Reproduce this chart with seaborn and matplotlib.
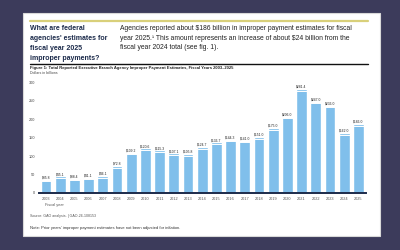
import matplotlib
matplotlib.use("Agg")
import matplotlib.pyplot as plt
import seaborn as sns
import pandas as pd
from matplotlib.patches import Rectangle
from matplotlib.lines import Line2D

years = ["2003", "2004", "2005", "2006", "2007", "2008", "2009", "2010", "2011", "2012",
         "2013", "2014", "2015", "2016", "2017", "2018", "2019", "2020", "2021", "2022",
         "2023", "2024", "2025"]
values = [35.8, 45.1, 38.4, 41.1, 46.1, 72.8, 109.2, 120.6, 115.3, 107.1,
          105.8, 124.7, 136.7, 144.3, 141.0, 151.0, 175.0, 206.0, 281.4, 247.0,
          236.0, 162.0, 186.0]
y_ticks = [0, 50, 100, 150, 200, 250, 300]

title_left = "What are federal\nagencies' estimates for\nfiscal year 2025\nimproper payments?"
body_right = ("Agencies reported about \\$186 billion in improper payment estimates for fiscal\n"
              "year 2025.¹ This amount represents an increase of about \\$24 billion from the\n"
              "fiscal year 2024 total (see fig. 1).")
fig_caption = "Figure 1: Total Reported Executive Branch Agency Improper Payment Estimates, Fiscal Years 2003\u20132025"
units = "Dollars in billions"
x_title = "Fiscal year"
source = "Source: GAO analysis. | GAO-26-108153"
note = "Note: Prior years' improper payment estimates have not been adjusted for inflation."

sns.set_theme(style="white")
plt.rcParams["font.family"] = ["Liberation Sans", "DejaVu Sans"]

BG = "#3c3b5b"
NAVY = "#1c2b4b"
BAR = "#80bfeb"

W, H = 400, 250
fig = plt.figure(figsize=(4, 2.5), dpi=100)
fig.patch.set_facecolor(BG)

def fx(px):
    return px / W

def fy(py):
    return 1 - py / H

# white card
fig.patches.append(Rectangle((fx(23), fy(236)), fx(357), (236 - 13) / H,
                             transform=fig.transFigure, facecolor="white",
                             edgecolor="#d9d9d9", linewidth=0.8, zorder=-5))
# yellow rule
fig.add_artist(Line2D([fx(30), fx(368)], [fy(21), fy(21)], transform=fig.transFigure,
                      color="#d9d07a", linewidth=1.6))
# black rule
fig.add_artist(Line2D([fx(30), fx(368)], [fy(64), fy(64)], transform=fig.transFigure,
                      color="#111111", linewidth=1.0))

fig.text(fx(30), fy(25.5), title_left, ha="left", va="top", fontsize=5.0,
         fontweight="bold", color=NAVY, linespacing=1.55)
fig.text(fx(120), fy(25.5), body_right, ha="left", va="top", fontsize=4.85,
         color="#222222", linespacing=1.42)
fig.text(fx(30), fy(66), fig_caption, ha="left", va="top", fontsize=3.0,
         fontweight="bold", color="#222222")
fig.text(fx(30), fy(70.5), units, ha="left", va="top", fontsize=2.6, color="#444444")
fig.text(fx(30), fy(214), source, ha="left", va="top", fontsize=2.6, color="#555555")
fig.text(fx(30), fy(226), note, ha="left", va="top", fontsize=3.0, color="#333333")

# chart axes
left, right = 38.9, 365.5
bottom_px, top_px = 193, 82
ax = fig.add_axes([fx(left), fy(bottom_px), (right - left) / W, (bottom_px - top_px) / H])
ax.set_facecolor("none")
ax.set_zorder(2)

df = pd.DataFrame({"year": years, "value": values})
sns.barplot(data=df, x="year", y="value", color=BAR, saturation=1, width=0.77,
            ax=ax, zorder=2)

for p, v in zip(ax.patches, values):
    x0 = p.get_x()
    w = p.get_width()
    ax.plot([x0, x0 + w], [v - 4.5, v - 4.5], color="white", linewidth=0.7, zorder=3,
            solid_capstyle="butt")
    ax.text(x0 + w / 2, v + 0.8, f"${v:.1f}", ha="center", va="bottom", fontsize=2.4,
            color="#222222", zorder=4)

ax.set_xlim(-0.5, len(years) - 0.5)
ax.set_ylim(0, 300)
ax.set_yticks(y_ticks)
ax.set_yticklabels([str(t) for t in y_ticks], fontsize=2.8, color="#444444")
ax.tick_params(axis="y", length=0, pad=3)
ax.tick_params(axis="x", length=0, pad=3, labelsize=2.8, labelcolor="#555555")
ax.set_xlabel("")
ax.set_ylabel("")
for s in ["top", "right", "left"]:
    ax.spines[s].set_visible(False)
ax.spines["bottom"].set_color(NAVY)
ax.spines["bottom"].set_linewidth(1.4)
ax.spines["bottom"].set_zorder(5)
fig.text(fx(45), fy(203), x_title, ha="left", va="top", fontsize=2.8, color="#555555")

fig.savefig("out.png", dpi=100, facecolor=fig.get_facecolor())
